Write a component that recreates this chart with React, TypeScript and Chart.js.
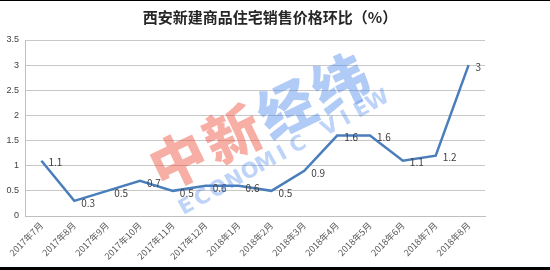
import React, { useEffect, useRef } from "react";
import { Chart, registerables } from "chart.js";

Chart.register(...registerables);

const titleText = "西安新建商品住宅销售价格环比（%）";
const categories = [
  "2017年7月", "2017年8月", "2017年9月", "2017年10月", "2017年11月", "2017年12月",
  "2018年1月", "2018年2月", "2018年3月", "2018年4月", "2018年5月", "2018年6月",
  "2018年7月", "2018年8月",
];
const values = [1.1, 0.3, 0.5, 0.7, 0.5, 0.6, 0.6, 0.5, 0.9, 1.6, 1.6, 1.1, 1.2, 3];
const watermarkCn = ["中", "新", "经", "纬"];
const watermarkEn = "ECONOMIC VIEW";

const CJK = '"Noto Sans CJK SC", "Noto Sans", sans-serif';

export default function App() {
  const ref = useRef<HTMLCanvasElement | null>(null);

  useEffect(() => {
    if (!ref.current) return;

    const decor = {
      id: "decor",
      afterDatasetsDraw(chart: any) {
        const ctx = chart.ctx;
        const meta = chart.getDatasetMeta(0);
        ctx.save();
        ctx.font = `10px ${CJK}`;
        ctx.fillStyle = "#404040";
        ctx.textAlign = "left";
        ctx.textBaseline = "middle";
        meta.data.forEach((pt: any, i: number) => {
          ctx.fillText(String(values[i]), pt.x + 7, pt.y + 2);
        });
        ctx.restore();
      },
      afterDraw(chart: any) {
        const ctx = chart.ctx;
        ctx.save();
        // title
        ctx.font = `bold 15px ${CJK}`;
        ctx.fillStyle = "#262626";
        ctx.textAlign = "center";
        ctx.textBaseline = "middle";
        ctx.fillText(titleText, 270, 16);

        // watermark Chinese
        ctx.save();
        ctx.translate(178, 159);
        ctx.rotate((-25.5 * Math.PI) / 180);
        ctx.font = `900 56px ${CJK}`;
        ctx.textAlign = "center";
        ctx.textBaseline = "middle";
        watermarkCn.forEach((ch, i) => {
          ctx.fillStyle = i < 2 ? "rgba(235,75,55,0.45)" : "rgba(70,130,235,0.42)";
          ctx.fillText(ch, i * 60, 0);
        });
        ctx.restore();

        // watermark English
        ctx.save();
        ctx.translate(187, 206);
        ctx.rotate((-29 * Math.PI) / 180);
        ctx.font = `bold 21px "DejaVu Sans", sans-serif`;
        ctx.textAlign = "center";
        ctx.textBaseline = "middle";
        ctx.fillStyle = "rgba(70,130,235,0.35)";
        watermarkEn.split("").forEach((ch, i) => {
          ctx.fillText(ch, i * 18.2, 0);
        });
        ctx.restore();

        ctx.restore();
      },
    };

    const chart = new Chart(ref.current, {
      type: "line",
      data: {
        labels: categories,
        datasets: [
          {
            data: values,
            borderColor: "#4a7ebb",
            borderWidth: 2.5,
            pointRadius: 0,
            tension: 0,
            fill: false,
          },
        ],
      },
      options: {
        responsive: false,
        animation: false,
        layout: { padding: { top: 39, right: 65, left: 0, bottom: 0 } },
        plugins: {
          legend: { display: false },
          tooltip: { enabled: false },
          title: { display: false },
        },
        scales: {
          x: {
            offset: true,
            grid: { display: false, drawTicks: false },
            border: { color: "#bfbfbf", width: 1 },
            ticks: {
              minRotation: 45,
              maxRotation: 45,
              autoSkip: false,
              padding: 4,
              color: "#595959",
              font: { size: 9, family: CJK },
            },
            afterFit(scale: any) {
              scale.height = 51;
            },
          },
          y: {
            min: 0,
            max: 3.5,
            ticks: {
              stepSize: 0.5,
              padding: 6,
              color: "#404040",
              font: { size: 9, family: '"Liberation Sans", sans-serif' },
              callback: (v: any) => String(Number(v)),
            },
            grid: { color: "#c8c8c8", drawTicks: false, lineWidth: 1 },
            border: { display: true, color: "#bfbfbf", width: 1 },
            afterFit(scale: any) {
              scale.width = 25;
            },
          },
        },
      },
      plugins: [decor],
    });

    return () => chart.destroy();
  }, []);

  return (
    <div
      style={{
        position: "absolute",
        left: 0,
        top: 0,
        width: 550,
        height: 270,
        boxSizing: "border-box",
        borderTop: "1px solid #000",
        borderBottom: "3px solid #000",
        background: "#fff",
      }}
    >
      <canvas ref={ref} width={550} height={266} style={{ display: "block" }} />
    </div>
  );
}
